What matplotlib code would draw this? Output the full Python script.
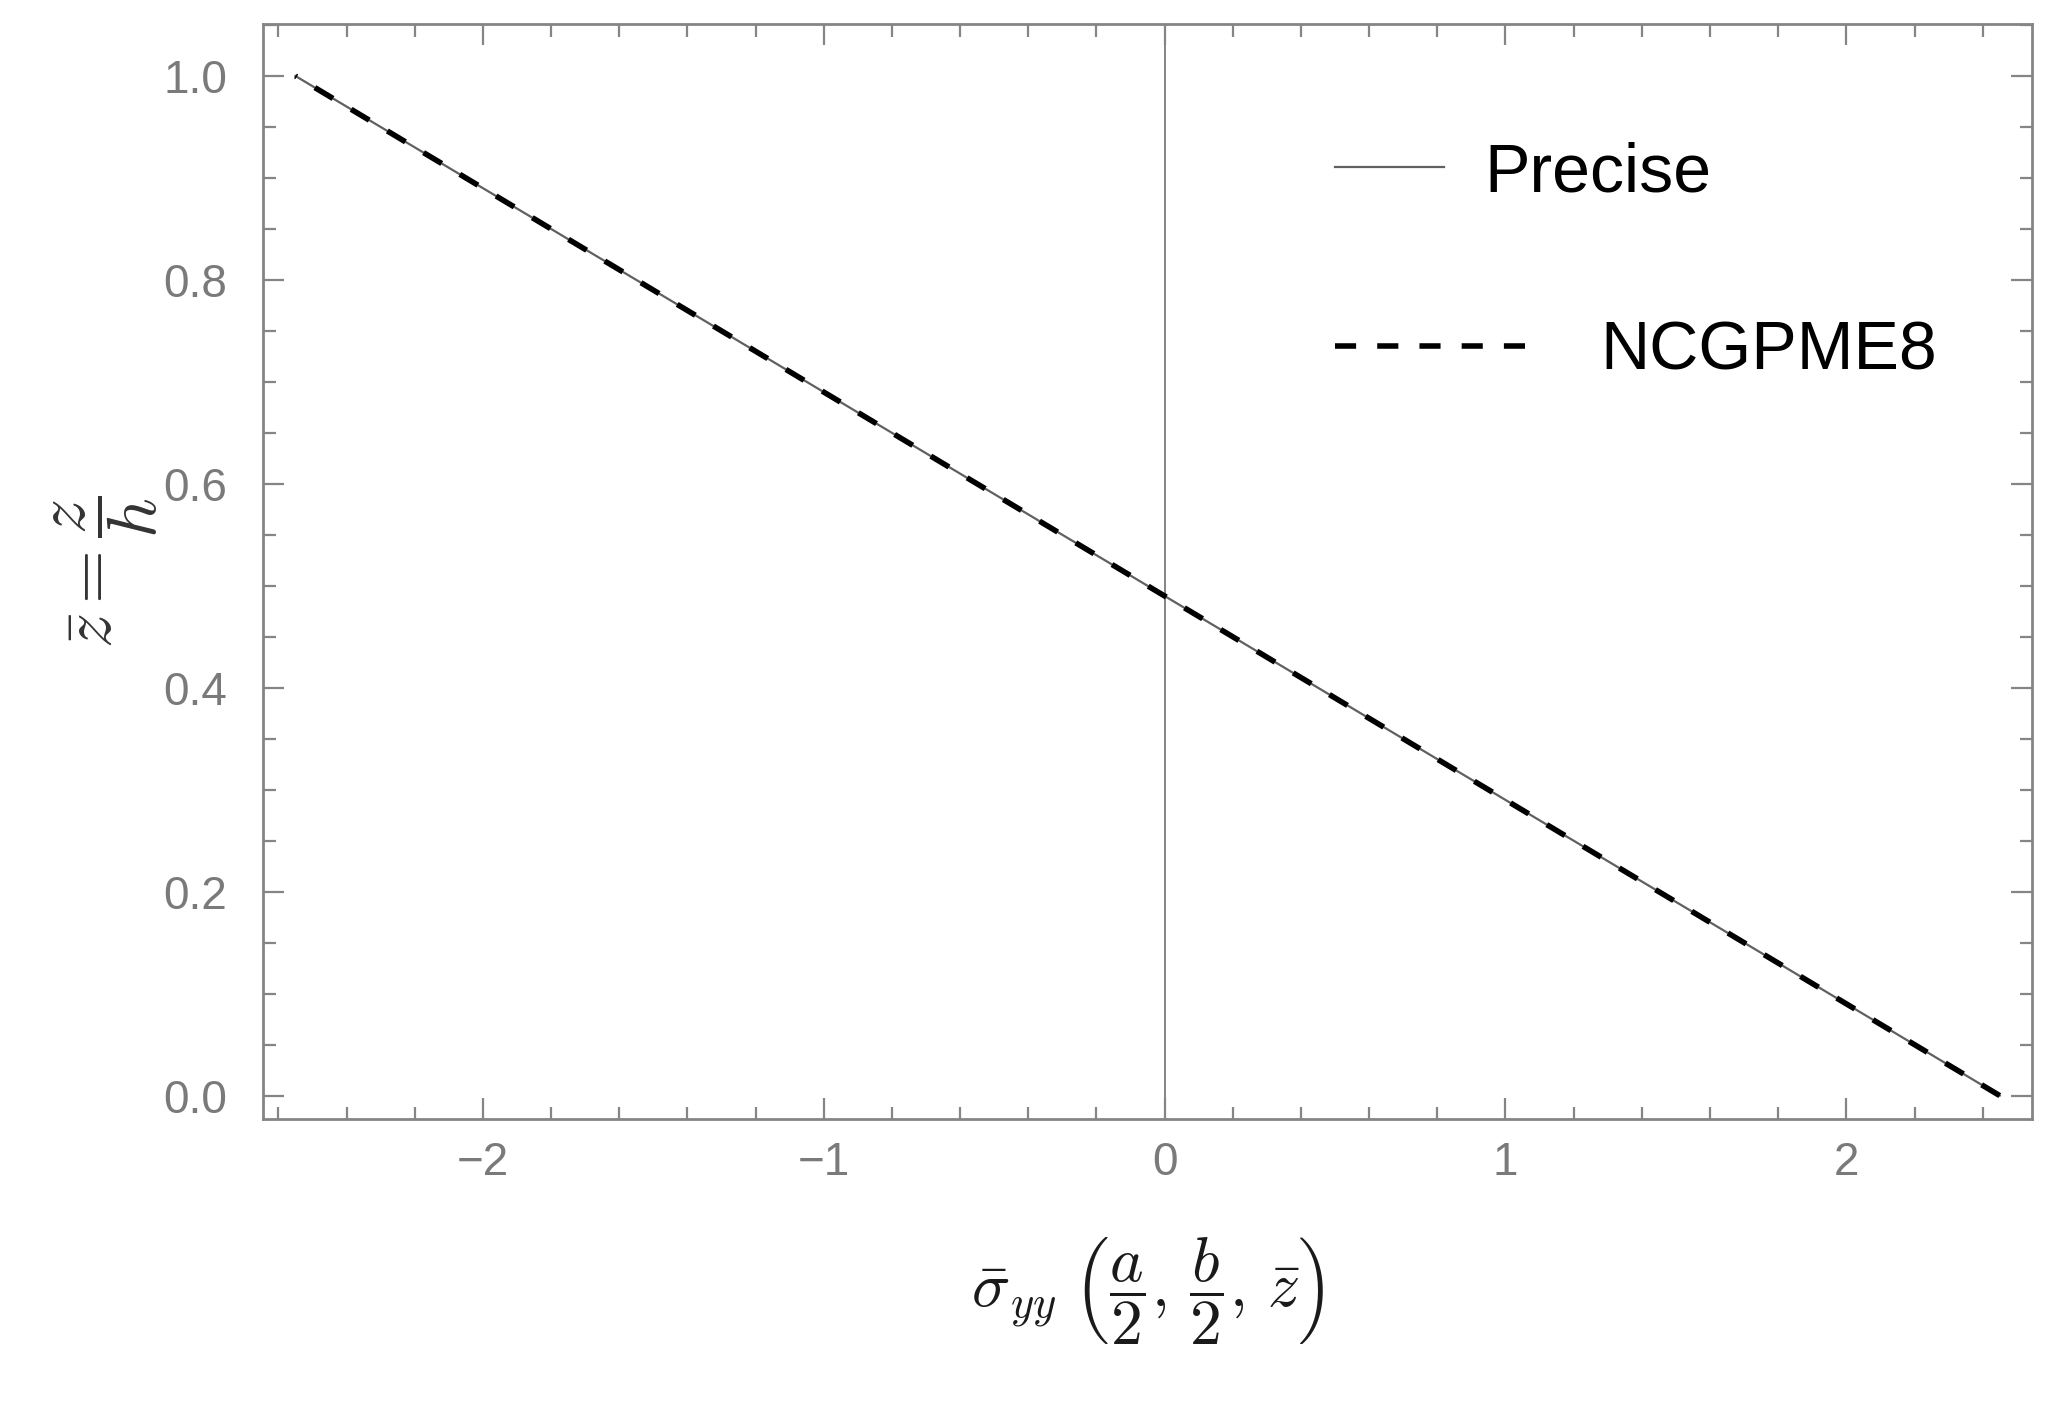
import matplotlib
matplotlib.use("Agg")
import matplotlib.pyplot as plt
from matplotlib.ticker import MultipleLocator

# Data
z_bar = [0.0, 0.25, 0.5, 0.75, 1.0]
sigma_precise = [2.45, 1.20, -0.05, -1.30, -2.55]
sigma_ncgpme8 = [2.45, 1.20, -0.05, -1.30, -2.55]

x_ticks = [-2, -1, 0, 1, 2]
y_ticks = [0.0, 0.2, 0.4, 0.6, 0.8, 1.0]
series_labels = ["Precise", "NCGPME8"]

plt.rcParams['mathtext.fontset'] = 'cm'
plt.rcParams['font.family'] = ['Liberation Sans', 'DejaVu Sans']

fig = plt.figure(figsize=(20.52, 14.11), dpi=100)
ax = fig.add_axes([0.1282, 0.2069, 0.9903 - 0.1282, 0.983 - 0.2069])

ax.axvline(0, color='#707070', lw=1.2, zorder=1)
l1, = ax.plot(sigma_precise, z_bar, color='#606060', lw=1.6, zorder=2)
l2, = ax.plot(sigma_ncgpme8, z_bar, color='black', lw=4.0, dashes=(3.8, 3.8), zorder=3)

ax.set_xlim(-2.645, 2.545)
ax.set_ylim(-0.023, 1.051)
ax.set_xticks(x_ticks)
ax.set_yticks(y_ticks)
ax.xaxis.set_minor_locator(MultipleLocator(0.2))
ax.yaxis.set_minor_locator(MultipleLocator(0.05))
ax.set_xticklabels(['\u22122', '\u22121', '0', '1', '2'])
ax.set_yticklabels(['0.0', '0.2', '0.4', '0.6', '0.8', '1.0'])

gray = '#858585'
for s in ax.spines.values():
    s.set_color(gray)
    s.set_linewidth(2.0)
ax.tick_params(which='both', direction='in', top=True, right=True, color=gray, width=1.6)
ax.tick_params(which='major', length=15, labelsize=33, labelcolor='#7a7a7a')
ax.tick_params(which='minor', length=9)
ax.tick_params(axis='y', which='major', pad=26)
ax.tick_params(axis='x', which='major', pad=16)

ax.set_xlabel(r'$\bar{\sigma}_{yy}\;\left(\dfrac{a}{2},\,\dfrac{b}{2},\,\bar{z}\right)$',
              fontsize=46, color='#1a1a1a', labelpad=36)
ax.set_ylabel(r'$\bar{z} = \dfrac{z}{h}$', fontsize=50, color='#333333', labelpad=2)

leg1 = ax.legend([l1], [series_labels[0]], loc='upper left', bbox_to_anchor=(0.606, 0.893),
                 frameon=False, fontsize=49, handlelength=1.6, handletextpad=0.6,
                 borderpad=0, borderaxespad=0)
ax.add_artist(leg1)
leg2 = ax.legend([l2], [series_labels[1]], loc='upper left', bbox_to_anchor=(0.606, 0.730),
                 frameon=False, fontsize=49, handlelength=3.1, handletextpad=0.8,
                 borderpad=0, borderaxespad=0)

fig.savefig('out.png', dpi=100)
